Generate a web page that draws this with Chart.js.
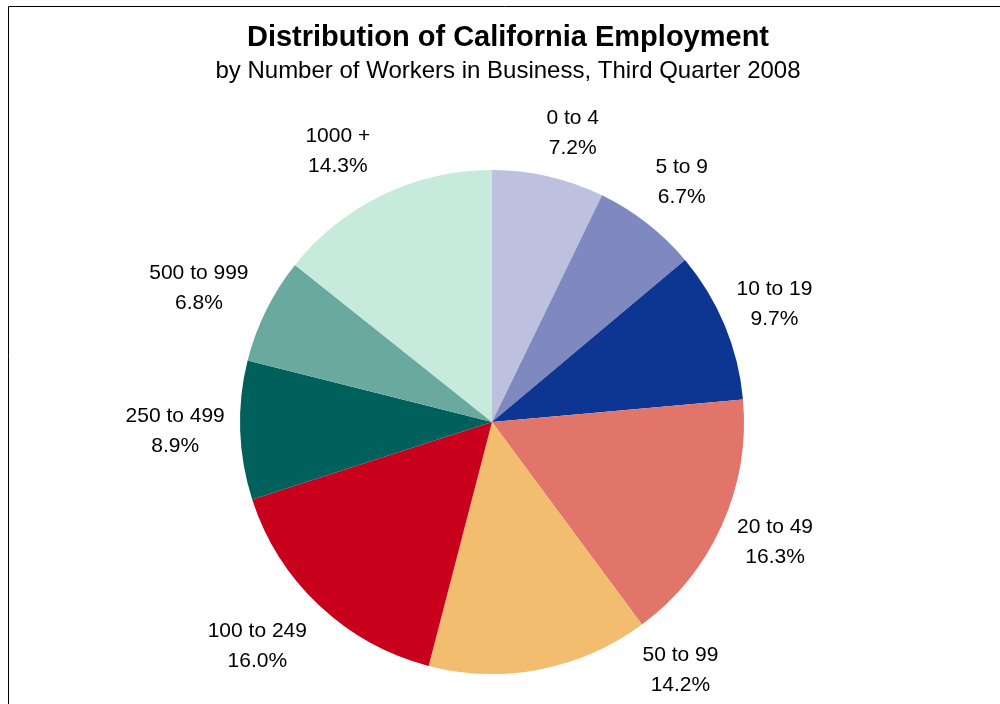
<!DOCTYPE html>
<html>
<head>
<meta charset="utf-8">
<script src="https://cdn.jsdelivr.net/npm/chart.js@4/dist/chart.umd.min.js"></script>
<style>
  html, body { margin: 0; padding: 0; background: #fff; }
  #wrap { width: 1000px; height: 704px; }
</style>
</head>
<body>
<div id="wrap"><canvas id="grafico" width="1000" height="704"></canvas></div>
<script>
const categorias = ["0 to 4", "5 to 9", "10 to 19", "20 to 49", "50 to 99", "100 to 249", "250 to 499", "500 to 999", "1000 +"];
const porcentajes = [7.2, 6.7, 9.7, 16.3, 14.2, 16.0, 8.9, 6.8, 14.3];
const colores = ["#bdc1df", "#7f89c0", "#0d3592", "#e2756a", "#f2bd6e", "#c8001b", "#00615c", "#6aa9a0", "#c6eadb"];

const titulo = "Distribution of California Employment";
const subtitulo = "by Number of Workers in Business, Third Quarter 2008";

// ajuste fino de cada etiqueta respecto a su posición radial
const ajusteEtiquetas = [[12, 10], [1, 2], [-1, 0], [3, -6], [130, -53], [-24, 1], [-10, -1], [-18, 2], [-21, 6]];

const FUENTE = "'Liberation Sans', Arial, sans-serif";

const marcoYTitulos = {
  id: "marcoYTitulos",
  beforeDraw(chart) {
    const ctx = chart.ctx;
    ctx.save();
    ctx.fillStyle = "#fff";
    ctx.fillRect(0, 0, chart.width, chart.height);
    ctx.strokeStyle = "#000";
    ctx.lineWidth = 1;
    ctx.beginPath();
    ctx.moveTo(8.5, chart.height);
    ctx.lineTo(8.5, 6.5);
    ctx.lineTo(chart.width, 6.5);
    ctx.stroke();

    ctx.fillStyle = "#000";
    ctx.textAlign = "center";
    ctx.textBaseline = "alphabetic";
    ctx.font = "bold 29px " + FUENTE;
    ctx.fillText(titulo, 508, 46);
    ctx.font = "24px " + FUENTE;
    ctx.fillText(subtitulo, 508, 78);
    ctx.restore();
  }
};

const etiquetas = {
  id: "etiquetas",
  afterDatasetsDraw(chart) {
    const ctx = chart.ctx;
    const meta = chart.getDatasetMeta(0);
    ctx.save();
    ctx.fillStyle = "#000";
    ctx.font = "21px " + FUENTE;
    ctx.textAlign = "center";
    ctx.textBaseline = "middle";
    meta.data.forEach((arco, i) => {
      const p = arco.getProps(["x", "y", "startAngle", "endAngle", "outerRadius"], true);
      const medio = (p.startAngle + p.endAngle) / 2;
      const d = p.outerRadius + 55;
      const x = p.x + Math.cos(medio) * d + ajusteEtiquetas[i][0];
      const y = p.y + Math.sin(medio) * d + ajusteEtiquetas[i][1];
      ctx.fillText(categorias[i], x, y - 15);
      ctx.fillText(porcentajes[i].toFixed(1) + "%", x, y + 15);
    });
    ctx.restore();
  }
};

new Chart(document.getElementById("grafico"), {
  type: "pie",
  data: {
    labels: categorias,
    datasets: [{
      data: porcentajes,
      backgroundColor: colores,
      borderWidth: 0
    }]
  },
  options: {
    responsive: false,
    animation: false,
    layout: { padding: { left: 240, right: 256, top: 170, bottom: 30 } },
    plugins: {
      legend: { display: false },
      tooltip: { enabled: false },
      title: { display: false }
    }
  },
  plugins: [marcoYTitulos, etiquetas]
});
</script>
</body>
</html>
